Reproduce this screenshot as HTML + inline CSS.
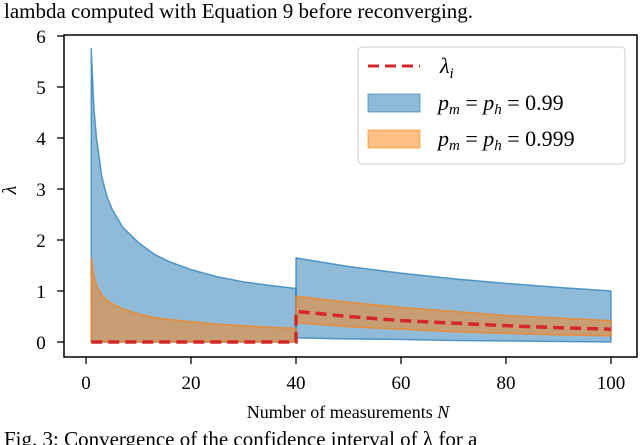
<!DOCTYPE html>
<html><head><meta charset="utf-8"><style>
body{margin:0;background:#fff;width:640px;height:445px;overflow:hidden;font-family:"Liberation Serif",serif}
svg{display:block}
</style></head><body>
<svg width="640" height="445" id="c">
<text x="4" y="18" font-size="21">lambda computed with Equation 9 before reconverging.</text>
<text x="4" y="446" font-size="21">Fig. 3: Convergence of the confidence interval of λ for a</text>
<g id="plot"></g>
<text x="16" y="190" font-size="20" font-style="italic" text-anchor="middle" transform="rotate(-90 16 190)">λ</text>
<text x="348" y="418" font-size="18" text-anchor="middle">Number of measurements <tspan font-style="italic">N</tspan></text>
<g>
<rect x="358" y="47" width="267" height="117" rx="4" fill="#fff" fill-opacity="0.8" stroke="#ccc"/>
<line x1="368" y1="66" x2="420" y2="66" stroke="#d62728" stroke-width="3" stroke-dasharray="11,6"/>
<text x="440" y="73" font-size="22" font-style="italic">λ<tspan font-size="15" dy="5">i</tspan></text>
<rect x="368" y="94" width="52" height="18" fill="#1f77b4" fill-opacity="0.5" stroke="#1f77b4" stroke-opacity="0.6"/>
<text x="438" y="110" font-size="22"><tspan font-style="italic">p<tspan font-size="15" dy="4">m</tspan></tspan><tspan dy="-4"> = </tspan><tspan font-style="italic">p<tspan font-size="15" dy="4">h</tspan></tspan><tspan dy="-4"> = 0.99</tspan></text>
<rect x="368" y="130" width="52" height="18" fill="#ff7f0e" fill-opacity="0.5" stroke="#ff7f0e" stroke-opacity="0.6"/>
<text x="438" y="146" font-size="22"><tspan font-style="italic">p<tspan font-size="15" dy="4">m</tspan></tspan><tspan dy="-4"> = </tspan><tspan font-style="italic">p<tspan font-size="15" dy="4">h</tspan></tspan><tspan dy="-4"> = 0.999</tspan></text>
</g>
</svg>
<script>
const nA=[1,1.5,2,3,4,5,7,10,13,16,20,25,30,35,40];
const blueUpA=[5.75,4.6,4.0,3.25,2.85,2.6,2.25,1.95,1.72,1.57,1.42,1.28,1.18,1.11,1.05];
const orangeUpA=[1.65,1.3,1.12,0.92,0.82,0.75,0.65,0.55,0.48,0.44,0.4,0.35,0.32,0.29,0.27];
const nB=[40,50,60,70,80,90,100];
const blueUpB=[1.65,1.48,1.35,1.24,1.15,1.07,1.0];
const blueLoB=[0.08,0.06,0.05,0.03,0.02,0.01,0.0];
const orangeUpB=[0.9,0.78,0.68,0.6,0.52,0.47,0.42];
const orangeLoB=[0.38,0.3,0.25,0.2,0.17,0.14,0.12];
const lambdaN=[1,40,40,50,60,70,80,90,100];
const lambdaV=[0,0,0.6,0.5,0.42,0.37,0.32,0.28,0.25];
const xTicks=[0,20,40,60,80,100];
const yTicks=[0,1,2,3,4,5,6];
const NS="http://www.w3.org/2000/svg";
const L=64,R=637,T=35,B=357;
const X=n=>86+n*5.25;
const Y=v=>342-v*51;
const g=document.getElementById('plot');
function mk(t,a){const e=document.createElementNS(NS,t);for(const k in a)e.setAttribute(k,a[k]);g.appendChild(e);return e;}
function band(ns,up,lo,col,name){
 let d='M'+ns.map((n,i)=>X(n)+','+Y(up[i])).join(' L');
 for(let i=ns.length-1;i>=0;i--)d+=' L'+X(ns[i])+','+Y(lo[i]);
 const e=mk('path',{d:d+'Z',fill:col,'fill-opacity':0.5,stroke:col,'stroke-width':1.5,'stroke-opacity':0.7,'stroke-linejoin':'round'});
 
 
}
const zA=nA.map(()=>0);
band(nA,blueUpA,zA,'#1f77b4','blue-band-phase1');
band(nB,blueUpB,blueLoB,'#1f77b4','blue-band-phase2');
band(nA,orangeUpA,zA,'#ff7f0e','orange-band-phase1');
band(nB,orangeUpB,orangeLoB,'#ff7f0e','orange-band-phase2');
const ln=mk('polyline',{points:lambdaN.map((n,i)=>X(n)+','+Y(lambdaV[i])).join(' '),fill:'none',stroke:'#d62728','stroke-width':3.5,'stroke-dasharray':'11,6'});


const fr=mk('rect',{x:L,y:T,width:R-L,height:B-T,fill:'none',stroke:'#000','stroke-width':1.5});


xTicks.forEach(t=>{
 mk('line',{x1:X(t),x2:X(t),y1:B,y2:B+7,stroke:'#000','stroke-width':1.3});
 const e=mk('text',{x:X(t),y:389,'font-size':19,'text-anchor':'middle'});e.textContent=t;
 
 
});
yTicks.forEach(t=>{
 mk('line',{x1:L-7,x2:L,y1:Y(t),y2:Y(t),stroke:'#000','stroke-width':1.3});
 const e=mk('text',{x:L-23,y:Y(t)+7,'font-size':19,'text-anchor':'middle'});e.textContent=t;
 
 
});
</script>
</body></html>
